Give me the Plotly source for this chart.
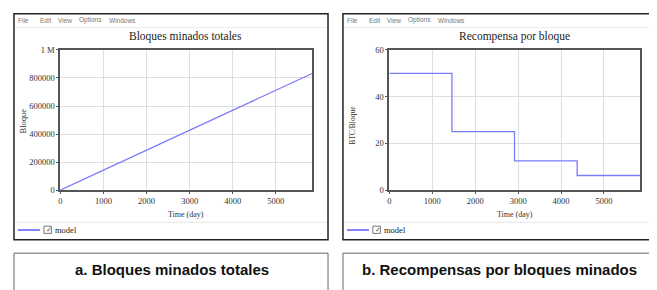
import plotly.graph_objects as go

# The page body has an 8px margin, so the figure is sized to the visible area
OFF = 8
W, H = 657 - OFF, 290 - OFF

# Data
time_a = [0, 5840]
blocks_a = [0, 832000]
y_ticks_a = [0, 200000, 400000, 600000, 800000, 1000000]
y_ticktext_a = ["0", "200000", "400000", "600000", "800000", "1 M"]

time_b = [0, 1458, 2916, 4375, 5840]
reward_b = [50, 25, 12.5, 6.25, 6.25]
y_ticks_b = [0, 20, 40, 60]

x_ticks = [0, 1000, 2000, 3000, 4000, 5000]

titles = ["Bloques minados totales", "Recompensa por bloque"]
y_titles = ["Bloque", "BTC/Bloque"]
captions = ["a. Bloques minados totales", "b. Recompensas por bloques minados"]
menu_items = ["File", "Edit", "View", "Options", "Windows"]
menu_offsets = [2, 24, 42, 63, 93]

def px(x):
    return (x - OFF) / W

def py(y):
    return 1 - (y - OFF) / H

fig = go.Figure()
fig.add_trace(go.Scatter(x=time_a, y=blocks_a, mode="lines",
                         line=dict(color="#7b7bff", width=1.3),
                         xaxis="x", yaxis="y", showlegend=False))
fig.add_trace(go.Scatter(x=time_b, y=reward_b, mode="lines", line_shape="hv",
                         line=dict(color="#7b7bff", width=1.3),
                         xaxis="x2", yaxis="y2", showlegend=False))

tickfont = dict(family="Liberation Serif", size=8.5, color="#333")
axis_common = dict(showgrid=True, gridcolor="#dedede", gridwidth=1,
                   showline=True, linecolor="#555", linewidth=2, mirror=True,
                   zeroline=False, tickfont=tickfont, ticks="outside",
                   ticklen=2, tickcolor="#555")

fig.update_layout(
    width=W, height=H, margin=dict(l=0, r=0, t=0, b=0),
    paper_bgcolor="white", plot_bgcolor="white",
    xaxis=dict(domain=[px(58.5), px(311)], range=[0, 5840], tickvals=x_ticks,
               anchor="y", **axis_common),
    yaxis=dict(domain=[py(191.6), py(46.3)], range=[0, 1000000], tickvals=y_ticks_a,
               ticktext=y_ticktext_a, anchor="x", **axis_common),
    xaxis2=dict(domain=[px(388.5), px(640)], range=[0, 5840], tickvals=x_ticks,
                anchor="y2", **axis_common),
    yaxis2=dict(domain=[py(191.6), py(46.3)], range=[0, 60], tickvals=y_ticks_b,
                anchor="x2", **axis_common),
)

shapes = []
annotations = []
panels = [(12, 327), (342, 655)]
for i, (l, r) in enumerate(panels):
    cx = (l + r) / 2
    # window frame
    shapes.append(dict(type="rect", xref="paper", yref="paper",
                       x0=px(l), x1=px(r), y0=py(243), y1=py(OFF + 0.8),
                       line=dict(color="#222", width=1.5), fillcolor="rgba(0,0,0,0)"))
    # menu separator
    shapes.append(dict(type="line", xref="paper", yref="paper",
                       x0=px(l + 1), x1=px(r - 1), y0=py(23), y1=py(23),
                       line=dict(color="#eeeeee", width=1)))
    # legend separator
    shapes.append(dict(type="line", xref="paper", yref="paper",
                       x0=px(l + 1), x1=px(r - 1), y0=py(225), y1=py(225),
                       line=dict(color="#e6e6e6", width=1)))
    # legend line
    shapes.append(dict(type="line", xref="paper", yref="paper",
                       x0=px(l + 4), x1=px(l + 26), y0=py(233), y1=py(233),
                       line=dict(color="#5a5aff", width=1.5)))
    # checkbox
    shapes.append(dict(type="rect", xref="paper", yref="paper",
                       x0=px(l + 30), x1=px(l + 37.5), y0=py(236.5), y1=py(229),
                       line=dict(color="#777", width=1), fillcolor="white"))
    annotations.append(dict(x=px(l + 30.5), y=py(233), xref="paper", yref="paper",
                            text="✓", showarrow=False, xanchor="left", yanchor="middle",
                            font=dict(family="DejaVu Sans", size=7, color="#555")))
    annotations.append(dict(x=px(l + 39.5), y=py(233), xref="paper", yref="paper",
                            text="model", showarrow=False, xanchor="left", yanchor="middle",
                            font=dict(family="Liberation Serif", size=8.5, color="#222")))
    # caption box
    shapes.append(dict(type="rect", xref="paper", yref="paper",
                       x0=px(l), x1=px(r), y0=py(300), y1=py(257),
                       line=dict(color="#666", width=1), fillcolor="rgba(0,0,0,0)"))
    annotations.append(dict(x=px(cx + 1), y=py(274), xref="paper", yref="paper",
                            text="<b>" + captions[i] + "</b>", showarrow=False,
                            xanchor="center", yanchor="middle",
                            font=dict(family="Liberation Sans", size=15, color="#111")))
    # menu
    for item, off in zip(menu_items, menu_offsets):
        annotations.append(dict(x=px(l + off), y=py(15.5), xref="paper", yref="paper",
                                text=item, showarrow=False, xanchor="left", yanchor="middle",
                                font=dict(family="Liberation Sans", size=6.5, color="#777")))
    # title
    annotations.append(dict(x=px([184.5, 514.5][i]), y=py(32), xref="paper", yref="paper",
                            text=titles[i], showarrow=False, xanchor="center", yanchor="middle",
                            font=dict(family="Liberation Serif", size=11.5, color="#222")))
    # x title
    annotations.append(dict(x=px([184.5, 514.5][i]), y=py(217), xref="paper", yref="paper",
                            text="Time (day)", showarrow=False, xanchor="center", yanchor="middle",
                            font=dict(family="Liberation Serif", size=8, color="#333")))
    # y title
    annotations.append(dict(x=px(l + [9, 10][i]), y=py([119.5, 124][i]), xref="paper", yref="paper",
                            text=y_titles[i], showarrow=False, textangle=-90,
                            xanchor="center", yanchor="middle",
                            font=dict(family="Liberation Serif", size=[8.5, 7.5][i], color="#333")))

fig.update_layout(shapes=shapes, annotations=annotations)
fig.write_html("out.html")
